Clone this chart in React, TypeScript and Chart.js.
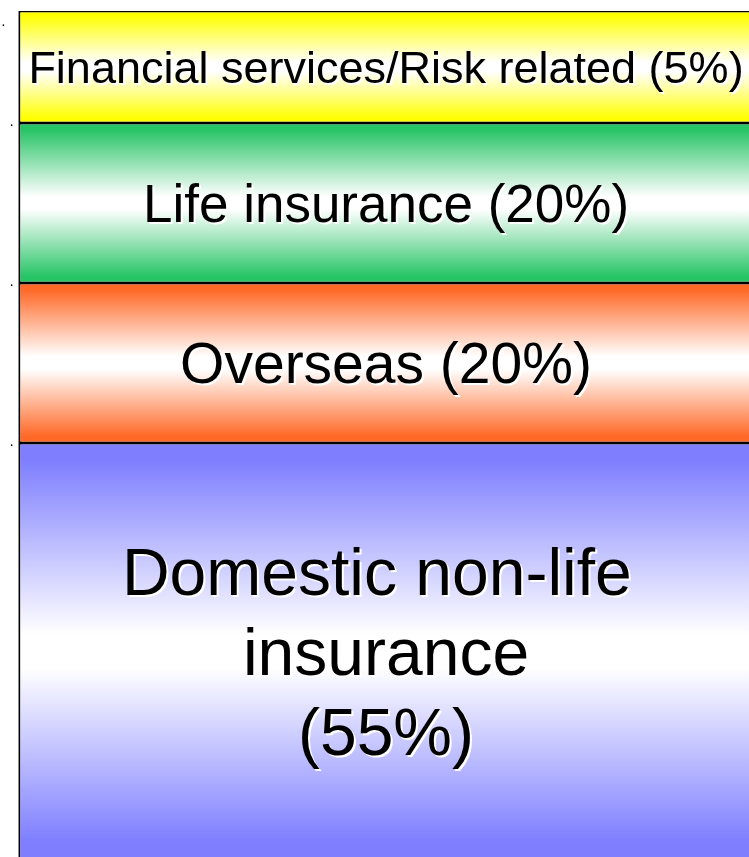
import { useEffect, useRef } from "react";
import { Chart, registerables } from "chart.js";

Chart.register(...registerables);

// ---- data ----
const categories = ["Business portfolio"];
const segmentNames = [
  "Domestic non-life insurance",
  "Overseas",
  "Life insurance",
  "Financial services/Risk related",
];
// visual stacked heights
const segmentValues = [52, 20, 20, 14];
const segmentShares = ["55%", "20%", "20%", "5%"];
const segmentLabelLines = [
  ["Domestic non-life ", "insurance", "(55%)"],
  ["Overseas (20%)"],
  ["Life insurance (20%)"],
  ["Financial services/Risk related (5%)"],
];
const tickValues = [52, 72, 92, 104.5];
const tickLabels = [".", ".", ".", ".   "];
const yMin = 0;
const yMax = 106;

// ---- styles ----
const edgeColors = ["#7E7EFF", "#FF6826", "#27C466", "#FFFF00"];
const labelFontSizes = [66, 57, 53, 45];
const lineHeights = [80, 0, 0, 0];
const FONT = "'Liberation Sans', Arial, sans-serif";

const cumulative = segmentValues.map((_, i) =>
  segmentValues.slice(0, i).reduce((a, b) => a + b, 0)
);

const labelPlugin = {
  id: "segmentLabels",
  afterDatasetsDraw(chart: any) {
    const c = chart.ctx as CanvasRenderingContext2D;
    chart.data.datasets.forEach((_ds: any, i: number) => {
      const meta = chart.getDatasetMeta(i);
      const el = meta.data[0];
      if (!el) return;
      const { x, y, base } = el.getProps(["x", "y", "base"], true);
      const top = Math.min(y, base);
      const bot = Math.max(y, base);
      const center = (top + bot) / 2;
      const size = labelFontSizes[i];
      const lines = segmentLabelLines[i];
      const lh = lineHeights[i];
      const cap = size * 0.716;
      c.save();
      c.font = `${size}px ${FONT}`;
      c.textAlign = "center";
      c.textBaseline = "alphabetic";
      lines.forEach((line, k) => {
        const baseline = center + cap / 2 + (k - (lines.length - 1) / 2) * lh;
        c.fillStyle = "#FFFFFF";
        c.fillText(line, x + 2, baseline + 2);
        c.fillStyle = "#000000";
        c.fillText(line, x, baseline);
      });
      c.restore();
    });
  },
};

export default function App() {
  const ref = useRef<HTMLCanvasElement | null>(null);

  useEffect(() => {
    if (!ref.current) return;
    const datasets = segmentNames.map((name, i) => ({
      label: `${name} (${segmentShares[i]})`,
      data: [segmentValues[i]],
      backgroundColor: (ctx: any) => {
        const chart = ctx.chart;
        const area = chart.chartArea;
        const ys = chart.scales && chart.scales.y;
        if (!area || !ys) return edgeColors[i];
        const y0 = ys.getPixelForValue(cumulative[i] + segmentValues[i]);
        const y1 = ys.getPixelForValue(cumulative[i]);
        const g = chart.ctx.createLinearGradient(0, y0, 0, y1);
        g.addColorStop(0, edgeColors[i]);
        g.addColorStop(0.04, edgeColors[i]);
        g.addColorStop(0.46, "#FFFFFF");
        g.addColorStop(0.54, "#FFFFFF");
        g.addColorStop(0.96, edgeColors[i]);
        g.addColorStop(1, edgeColors[i]);
        return g;
      },
      borderColor: "#000000",
      borderWidth: 1.4,
      borderSkipped: false,
      categoryPercentage: 1,
      barPercentage: 734 / 736,
    }));

    const chart = new Chart(ref.current, {
      type: "bar",
      data: { labels: categories, datasets },
      options: {
        responsive: false,
        animation: false,
        devicePixelRatio: 1,
        layout: { padding: { top: 11, left: 0, right: 0, bottom: 0 } },
        plugins: {
          legend: { display: false },
          tooltip: { enabled: false },
          title: { display: false },
        },
        scales: {
          x: { display: false, stacked: true },
          y: {
            stacked: true,
            min: yMin,
            max: yMax,
            position: "left",
            afterBuildTicks: (s: any) => {
              s.ticks = tickValues.map((v) => ({ value: v }));
            },
            afterFit: (s: any) => {
              s.width = 18;
              s.paddingTop = 0;
              s.paddingBottom = 0;
            },
            ticks: {
              autoSkip: false,
              padding: 5,
              color: "#000000",
              font: { size: 10, family: FONT, weight: "bold" },
              callback: (_v: any, idx: number) => tickLabels[idx],
            },
            grid: { display: false, drawTicks: false },
            border: { display: true, color: "#8c8c8c", width: 1 },
          },
        },
      } as any,
      plugins: [labelPlugin],
    });
    return () => chart.destroy();
  }, []);

  return (
    <div
      style={{
        position: "fixed",
        left: 0,
        top: 0,
        width: 749,
        height: 857,
        overflow: "hidden",
        background: "#FFFFFF",
      }}
    >
      <canvas ref={ref} width={754} height={859} style={{ display: "block" }} />
    </div>
  );
}
